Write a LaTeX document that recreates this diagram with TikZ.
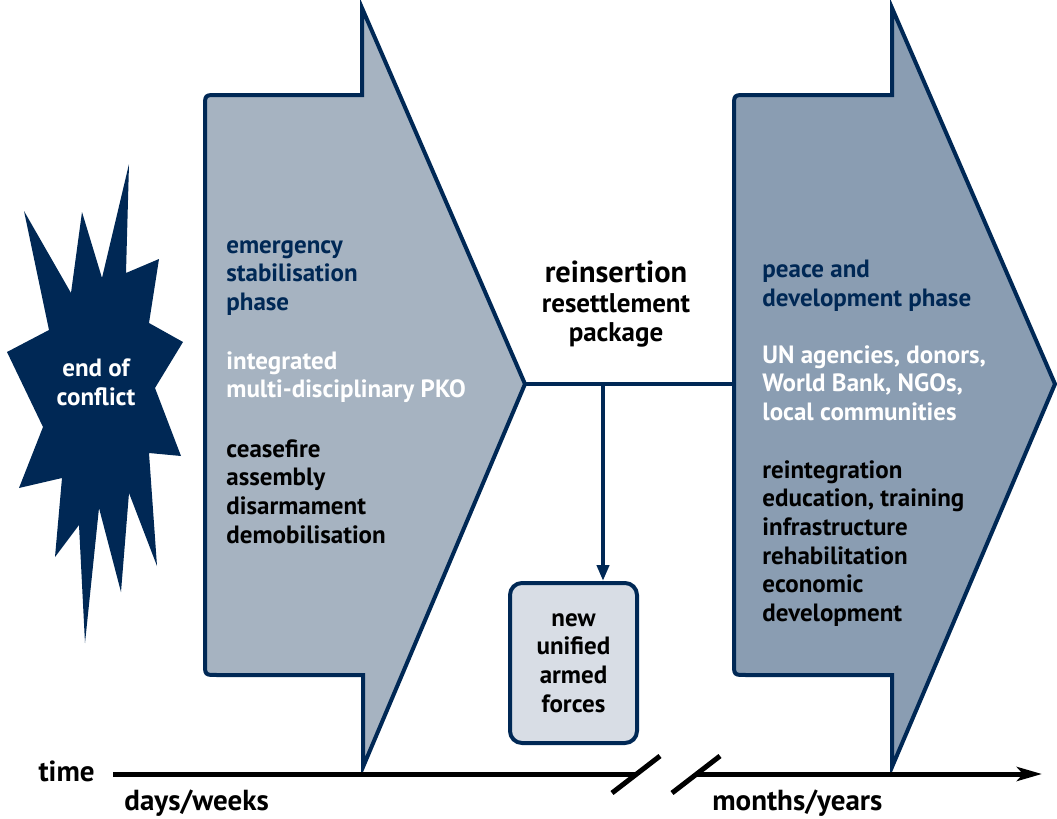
\documentclass[tikz,border=0pt]{standalone}
\usepackage{fontspec}
\setmainfont{PT Sans}
\usetikzlibrary{arrows.meta}
\definecolor{navy}{RGB}{0,40,85}
\definecolor{stabfill}{RGB}{166,179,193}
\definecolor{devfill}{RGB}{138,157,178}
\definecolor{boxfill}{RGB}{216,221,229}
\tikzstyle{phase} = [draw=navy, line width=2pt, line join=miter]
\tikzstyle{txt} = [align=left, anchor=north west, inner sep=0pt, font=\bfseries\fontsize{12.5}{14.35}\selectfont]
\tikzstyle{ctxt} = [align=center, inner sep=0pt, font=\bfseries\fontsize{12.5}{14.35}\selectfont]
\tikzstyle{axislabel} = [inner sep=0pt, font=\bfseries\fontsize{14.5}{16}\selectfont]
\tikzstyle{link} = [draw=navy, line width=2pt]
\tikzstyle{timeline} = [line width=2.5pt, black]

\begin{document}
\begin{tikzpicture}[x=0.5pt, y=-0.5pt]
\useasboundingbox (0,0) rectangle (1057,819);

% starburst
\fill[navy] (24,211) -- (71,293) -- (82,212) -- (102,278) -- (129,164) -- (126,273)
  -- (159,259) -- (149,323) -- (183,342) -- (155,388) -- (181,456) -- (149,453)
  -- (157,566) -- (129,493) -- (121,592) -- (99,508) -- (85,643) -- (79,525)
  -- (55,557) -- (62,478) -- (19,488) -- (43,427) -- (7,352) -- (49,330) -- cycle;
\node (conflict) [ctxt, text=white] at (96,382) {end of\\conflict};

% emergency stabilisation phase
\draw[phase, fill=stabfill] (205,385) -- (205,107) .. controls (205,95) .. (217,95) -- (362,95)
  -- (362,8) -- (525,384) -- (363,767) -- (363,675) -- (217,675) .. controls (205,675) .. (205,663) -- cycle;
\coordinate (emtip) at (525,384);
\node (emtitle) [txt, text=navy] at (226,240) {emergency\\stabilisation\\phase};
\node (emactors) [txt, text=white] at (226,351) {integrated\\multi-disciplinary PKO};
\node (emtasks) [txt] at (226,439) {ceasefire\\assembly\\disarmament\\demobilisation};

% peace and development phase
\draw[phase, fill=devfill] (734,385) -- (734,107) .. controls (734,95) .. (746,95) -- (892,95)
  -- (892,8) -- (1055,384) -- (892,767) -- (892,675) -- (746,675) .. controls (734,675) .. (734,663) -- cycle;
\coordinate (pdleft) at (734,384);
\node (pdtitle) [txt, text=navy] at (762,260) {peace and\\development phase};
\node (pdactors) [txt, text=white] at (762,345) {UN agencies, donors,\\World Bank, NGOs,\\local communities};
\node (pdtasks) [txt] at (762,460) {reintegration\\education, training\\infrastructure\\rehabilitation\\economic\\development};

% reinsertion
\node (reins) [ctxt] at (616,304) {{\fontsize{15.2}{17}\selectfont reinsertion}\\[1pt]{\fontsize{13.5}{16}\selectfont resettlement}\\{\fontsize{13.5}{16}\selectfont package}};
\draw[link] (emtip) -- (pdleft);
\coordinate (branch) at (603,384);
\node (forces) [ctxt, draw=navy, line width=2pt, fill=boxfill, rounded corners=6pt,
  minimum width=63.5pt, minimum height=80pt] at (573.5,663) {new\\unified\\armed\\forces};
\draw[link, -{Triangle[length=8pt, width=6pt]}] (branch) -- (branch |- forces.north);

% time axis
\node (time) [axislabel, anchor=east] at (95,771) {time};
\coordinate (tstart) at (113,774);
\coordinate (tbreakl) at (637,774);
\coordinate (tbreakr) at (697,774);
\coordinate (tend) at (1042,774);
\draw[timeline] (tstart) -- (tbreakl);
\draw[timeline, -{Stealth[length=12.5pt, width=7pt, inset=3pt]}] (tbreakr) -- (tend);
\draw[timeline] ([shift={(-25,19)}]tbreakl) -- ([shift={(23,-18)}]tbreakl);
\draw[timeline] ([shift={(-25,19)}]tbreakr) -- ([shift={(23,-18)}]tbreakr);
\node (short) [axislabel, anchor=west] at (124,803) {days/weeks};
\node (long) [axislabel, anchor=west] at (712,803) {months/years};
\end{tikzpicture}
\end{document}
